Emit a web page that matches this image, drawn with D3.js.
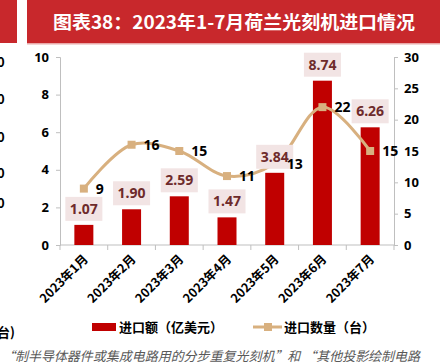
<!DOCTYPE html>
<html><head><meta charset="utf-8">
<script src="https://cdn.jsdelivr.net/npm/d3@7"></script>
<style>
html,body{margin:0;padding:0;background:#fff;}
svg{display:block;font-family:"Noto Sans CJK SC","Noto Sans",sans-serif;}
</style></head><body>
<svg id="c" width="440" height="362"></svg>
<script>
const categories = ["2023年1月","2023年2月","2023年3月","2023年4月","2023年5月","2023年6月","2023年7月"];
const importValue = [1.07, 1.90, 2.59, 1.47, 3.84, 8.74, 6.26];
const importCount = [9, 16, 15, 11, 13, 22, 15];
const leftTicks = [0, 2, 4, 6, 8, 10];
const rightTicks = [0, 5, 10, 15, 20, 25, 30];
const ghostTicks = ["0","0","0","0","0"];
const titleText = "图表38：2023年1-7月荷兰光刻机进口情况";
const legendBar = "进口额（亿美元）";
const legendLine = "进口数量（台）";
const footText = "“制半导体器件或集成电路用的分步重复光刻机”和 “其他投影绘制电路";

const svg = d3.select("#c");
const red = "#C00000", tan = "#D8B07F", axisGray = "#BFBFBF";

// title bar
svg.append("rect").attr("x",0).attr("y",0).attr("width",17).attr("height",43).attr("fill","#C8282C");
svg.append("rect").attr("x",27).attr("y",0).attr("width",413).attr("height",43).attr("fill","#C8282C");
svg.append("rect").attr("x",27).attr("y",43).attr("width",413).attr("height",1.5).attr("fill","#E9A9A9");
svg.append("text").attr("x",53).attr("y",29).attr("fill","#fff").attr("font-size",18).attr("font-weight","bold")
  .attr("textLength",362).attr("lengthAdjust","spacingAndGlyphs").text(titleText);

// ghost ticks from neighbouring chart
const ghostY = [62, 99, 137, 173, 203];
svg.selectAll(".ghost").data(ghostTicks).enter().append("text")
  .attr("x",-3).attr("y",(d,i)=>ghostY[i]+5).attr("font-size",13).attr("font-weight","bold").text(d=>d);
svg.append("text").attr("x",-3).attr("y",337).attr("font-size",13).attr("font-weight","bold").text("台)");

const x = d3.scaleBand().domain(categories).range([60,394]).padding(0);
const yL = d3.scaleLinear().domain([0,10]).range([245,57]);
const yR = d3.scaleLinear().domain([0,30]).range([245,57]);

// axes
const gL = svg.append("g").attr("transform","translate(60,0)")
  .call(d3.axisLeft(yL).tickValues(leftTicks).tickSize(4).tickPadding(7).tickFormat(d3.format("d")));
const gR = svg.append("g").attr("transform","translate(394,0)")
  .call(d3.axisRight(yR).tickValues(rightTicks).tickSize(4).tickPadding(6).tickFormat(d3.format("d")));
[gL,gR].forEach(g=>{
  g.select(".domain").attr("stroke",axisGray);
  g.selectAll(".tick line").attr("stroke",axisGray);
  g.selectAll("text").attr("font-size",13).attr("font-weight","bold").attr("fill","#000")
    .attr("font-family","'Noto Sans','Noto Sans CJK SC',sans-serif");
});
// bottom axis
const gB = svg.append("g").attr("transform","translate(0,245)");
gB.append("line").attr("x1",60).attr("x2",394).attr("y1",0).attr("y2",0).attr("stroke",axisGray);
const bounds = categories.map(c=>x(c)).concat([x(categories[6])+x.bandwidth()]);
gB.selectAll(".bt").data(bounds).enter().append("line")
  .attr("x1",d=>d).attr("x2",d=>d).attr("y1",0).attr("y2",5).attr("stroke",axisGray);
gB.selectAll(".xl").data(categories).enter().append("text")
  .attr("transform",d=>`translate(${x(d)+x.bandwidth()/2+5},${15}) rotate(-45)`)
  .attr("text-anchor","end").attr("font-size",12.5).attr("font-weight","bold").attr("fill","#000")
  .text(d=>d);

// bars
const bw = 19;
svg.selectAll(".bar").data(importValue).enter().append("rect")
  .attr("x",(d,i)=>x(categories[i])+x.bandwidth()/2-bw/2)
  .attr("y",d=>yL(d)).attr("width",bw).attr("height",d=>245-yL(d)).attr("fill",red);

// line
const line = d3.line().x((d,i)=>x(categories[i])+x.bandwidth()/2).y(d=>yR(d)).curve(d3.curveCatmullRom.alpha(0.5));
svg.append("path").datum(importCount).attr("d",line).attr("fill","none").attr("stroke",tan).attr("stroke-width",3);
svg.selectAll(".mk").data(importCount).enter().append("rect")
  .attr("x",(d,i)=>x(categories[i])+x.bandwidth()/2-4).attr("y",d=>yR(d)-4)
  .attr("width",8).attr("height",8).attr("fill",tan);

// bar labels
const lg = svg.selectAll(".bl").data(importValue).enter().append("g")
  .attr("transform",(d,i)=>`translate(${x(categories[i])+x.bandwidth()/2},${yL(d)-4})`);
lg.append("rect").attr("x",-18.5).attr("y",-24).attr("width",37).attr("height",24).attr("fill","#F2E4E4");
lg.append("text").attr("y",-7).attr("text-anchor","middle").attr("font-size",14).attr("font-weight","bold")
  .attr("fill","#6E2B2B").attr("font-family","'Noto Sans',sans-serif").text(d=>d.toFixed(2));

// line labels
svg.selectAll(".ll").data(importCount).enter().append("text")
  .attr("x",(d,i)=>x(categories[i])+x.bandwidth()/2+12).attr("y",d=>yR(d)+5)
  .attr("font-size",14).attr("font-weight","bold").attr("fill","#000")
  .attr("font-family","'Noto Sans',sans-serif").text(d=>d);

// legend
svg.append("rect").attr("x",92).attr("y",323).attr("width",24).attr("height",8).attr("fill",red);
svg.append("text").attr("x",119).attr("y",332).attr("font-size",13).attr("font-weight","bold").text(legendBar);
svg.append("line").attr("x1",253).attr("x2",282).attr("y1",327).attr("y2",327).attr("stroke",tan).attr("stroke-width",3);
svg.append("rect").attr("x",264).attr("y",323).attr("width",8).attr("height",8).attr("fill",tan);
svg.append("text").attr("x",284).attr("y",332).attr("font-size",13).attr("font-weight","bold").text(legendLine);

// footnote
svg.append("text").attr("x",2).attr("y",361).attr("font-size",13).attr("font-style","italic").attr("fill","#595959")
  .attr("textLength",418).attr("lengthAdjust","spacingAndGlyphs").text(footText);
</script>
</body></html>
